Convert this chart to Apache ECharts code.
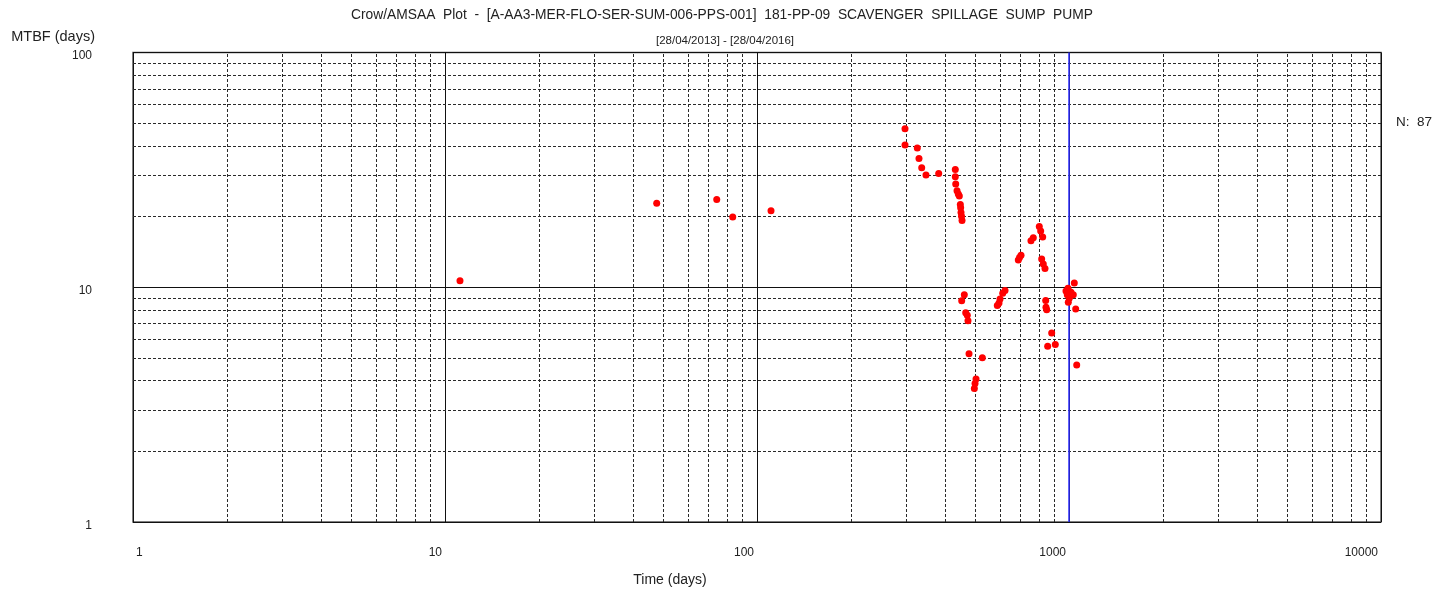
<!DOCTYPE html>
<html>
<head>
<meta charset="utf-8">
<script src="https://cdn.jsdelivr.net/npm/echarts@6/dist/echarts.min.js"></script>
<style>
html,body{margin:0;padding:0;background:#fff;}
#chart{width:1435px;height:592px;}
</style>
</head>
<body>
<div id="chart"></div>
<script>
// Cumulative time (days) of each plotted point
var times = [
  11.17, 47.7, 74.3, 83.6, 110.9,
  298.1, 298.1, 326.4, 330.5, 337.2, 348.0, 382.3, 432.1, 432.1, 433.4, 437.6, 441.8, 445.1, 448.4, 449.5, 450.7, 452.4, 454.1,
  461.8, 453.0, 466.6, 472.1, 474.5, 478.1, 527.5, 503.5, 497.3, 499.8,
  623.6, 613.1, 601.0, 596.6, 589.1, 687.9, 701.8, 694.1, 755.3, 768.3, 803.1, 811.4, 823.5, 817.4, 827.2, 837.6,
  842.0, 843.8, 848.2, 880.1, 854.4, 903.8,
  1039.9, 978.1, 987.5, 994.9, 1032.2, 1050.7, 1058.5, 992.6, 1002.2, 1014.9, 1007.4
];
// MTBF (days) of each plotted point
var mtbf = [
  10.67, 22.81, 23.62, 19.91, 21.17,
  47.35, 40.36, 39.2, 35.35, 32.27, 30.06, 30.55, 31.76, 29.55, 27.53, 25.78, 24.97, 24.49, 22.50, 21.79, 20.82, 20.06, 19.26,
  9.28, 8.75, 7.79, 7.59, 7.20, 5.21, 5.01, 4.07, 3.70, 3.89,
  9.68, 9.43, 8.92, 8.56, 8.37, 13.05, 13.69, 13.39, 15.76, 16.27, 18.16, 17.37, 16.38, 13.18, 12.55, 12.03,
  8.78, 8.21, 8.02, 6.39, 5.61, 5.70,
  10.43, 9.65, 9.28, 8.64, 9.28, 8.07, 4.67, 9.90, 8.98, 9.53, 9.16
];
var xTickLabels = ['1', '10', '100', '1000', '10000'];
var yTickLabels = ['1', '10', '100'];
var xMinorGrid = [2,3,4,5,6,7,8,9,20,30,40,50,60,70,80,90,200,300,400,500,600,700,800,900,2000,3000,4000,5000,6000,7000,8000,9000];
var yMinorGrid = [2,3,4,5,6,7,8,9,20,30,40,50,60,70,80,90];
var observationEnd = 1000;
var pointCount = 87;

var points = times.map(function (t, i) { return [t, mtbf[i]]; });
var dashStyle = { color: '#2a2a2a', width: 1, type: [3, 2] };
var minorLines = [];
xMinorGrid.forEach(function (v) { minorLines.push({ xAxis: v, lineStyle: dashStyle }); });
yMinorGrid.forEach(function (v) { minorLines.push({ yAxis: v, lineStyle: dashStyle }); });

var FONT = 'Liberation Sans, Arial, sans-serif';
var chart = echarts.init(document.getElementById('chart'));
chart.setOption({
  animation: false,
  backgroundColor: '#ffffff',
  textStyle: { fontFamily: FONT },
  title: [
    { text: 'Crow/AMSAA  Plot  -  [A-AA3-MER-FLO-SER-SUM-006-PPS-001]  181-PP-09  SCAVENGER  SPILLAGE  SUMP  PUMP',
      left: 717, top: 3, textAlign: 'center',
      textStyle: { fontSize: 13.8, fontWeight: 'normal', color: '#222', fontFamily: FONT } },
    { text: '[28/04/2013] - [28/04/2016]',
      left: 720, top: 30, textAlign: 'center',
      textStyle: { fontSize: 11.5, fontWeight: 'normal', color: '#222', fontFamily: FONT } },
    { text: 'N:  ' + pointCount,
      left: 1391, top: 110,
      textStyle: { fontSize: 13.5, fontWeight: 'normal', color: '#222', fontFamily: FONT } }
  ],
  grid: { left: 133, right: 54, top: 52.5, bottom: 66.5, show: true, borderColor: '#555', borderWidth: 1.5, backgroundColor: 'transparent' },
  xAxis: {
    type: 'log', logBase: 10, min: 1, max: 10000,
    name: 'Time (days)', nameLocation: 'middle', nameGap: 51,
    nameTextStyle: { fontSize: 14, color: '#222', padding: [0, 174, 0, 0] },
    axisLine: { show: false }, axisTick: { show: false },
    splitLine: { show: true, lineStyle: { color: '#111', width: 1, type: 'solid' } },
    axisLabel: {
      margin: 25, fontSize: 12, color: '#222', align: 'right', alignMinLabel: 'left', alignMaxLabel: 'right',
      formatter: function (v) {
        var idx = Math.round(Math.log10(v));
        return '{t|' + xTickLabels[idx] + '}';
      },
      rich: { t: { fontSize: 12, color: '#222', padding: [0, 3, 0, 3] } }
    }
  },
  yAxis: {
    type: 'log', logBase: 10, min: 1, max: 100,
    name: 'MTBF (days)', nameLocation: 'end', nameGap: 8,
    nameTextStyle: { fontSize: 14.5, color: '#222', align: 'right', padding: [0, 38, 0, 0] },
    axisLine: { show: false }, axisTick: { show: false },
    splitLine: { show: true, lineStyle: { color: '#111', width: 1, type: 'solid' } },
    axisLabel: {
      margin: 41, fontSize: 12, color: '#222',
      formatter: function (v) {
        var idx = Math.round(Math.log10(v));
        return '{t|' + yTickLabels[idx] + '}';
      },
      rich: { t: { fontSize: 12, color: '#222', padding: [7, 0, 0, 0] } }
    }
  },
  series: [{
    type: 'scatter',
    data: points,
    symbol: 'circle',
    symbolSize: 7,
    itemStyle: { color: '#ff0000', opacity: 1 },
    z: 5,
    markLine: {
      silent: true, symbol: 'none', animation: false,
      label: { show: false },
      data: minorLines
    }
  }, {
    type: 'scatter',
    data: [],
    z: 6,
    markLine: {
      silent: true, symbol: 'none', animation: false,
      label: { show: false },
      data: [{ xAxis: observationEnd, lineStyle: { color: '#2b2bff', width: 1.5, type: 'solid' } }]
    }
  }]
});
</script>
</body>
</html>
